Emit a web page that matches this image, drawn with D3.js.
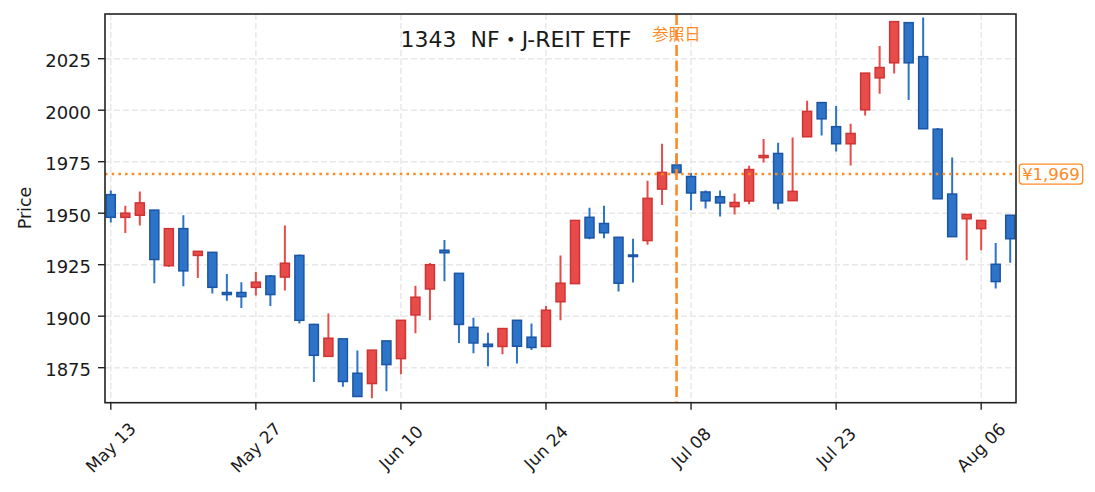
<!DOCTYPE html>
<html>
<head>
<meta charset="utf-8">
<script src="https://cdn.jsdelivr.net/npm/d3@7"></script>
<style>
  body { margin: 0; background: #fff; }
  svg { display: block; }
  text { font-family: "DejaVu Sans", "Noto Sans CJK JP", sans-serif; fill: #1a1a1a; }
</style>
</head>
<body>
<div id="chart"></div>
<script>

var dates = [
  '2024-05-13', '2024-05-14', '2024-05-15', '2024-05-16', '2024-05-17',
  '2024-05-20', '2024-05-21', '2024-05-22', '2024-05-23', '2024-05-24',
  '2024-05-27', '2024-05-28', '2024-05-29', '2024-05-30', '2024-05-31',
  '2024-06-03', '2024-06-04', '2024-06-05', '2024-06-06', '2024-06-07',
  '2024-06-10', '2024-06-11', '2024-06-12', '2024-06-13', '2024-06-14',
  '2024-06-17', '2024-06-18', '2024-06-19', '2024-06-20', '2024-06-21',
  '2024-06-24', '2024-06-25', '2024-06-26', '2024-06-27', '2024-06-28',
  '2024-07-01', '2024-07-02', '2024-07-03', '2024-07-04', '2024-07-05',
  '2024-07-08', '2024-07-09', '2024-07-10', '2024-07-11', '2024-07-12',
  '2024-07-16', '2024-07-17', '2024-07-18', '2024-07-19',
  '2024-07-22', '2024-07-23', '2024-07-24', '2024-07-25', '2024-07-26',
  '2024-07-29', '2024-07-30', '2024-07-31', '2024-08-01', '2024-08-02',
  '2024-08-05', '2024-08-06', '2024-08-07', '2024-08-08'
];

var openPrices = [
  1959, 1948, 1949, 1951.5, 1924.5, 1942.5, 1929.5, 1931, 1911.5, 1911.5,
  1914, 1919.5, 1919, 1929.5, 1896, 1880.5, 1889, 1872.3, 1867.3, 1888,
  1879.4, 1900.6, 1913.2, 1932, 1920.8, 1894.6, 1886.4, 1885.3, 1898, 1889.8,
  1885.3, 1907, 1915.8, 1948, 1945, 1938.3, 1929.7, 1936.7, 1961.7, 1973.4,
  1967.8, 1960.3, 1958, 1953.2, 1955.9, 1977, 1979, 1956.1, 1987.1, 2003.7,
  1992, 1983.7, 2000.2, 2015.7, 2023, 2042.5, 2026, 1990.8, 1959.3, 1947.3,
  1942.5, 1925.2, 1949
];

var highPrices = [
  1961, 1953.6, 1960.5, 1951.5, 1942.6, 1949, 1931.5, 1931, 1920.5, 1916.5,
  1921.5, 1920, 1944, 1930, 1896.3, 1901.3, 1889, 1883.3, 1883.5, 1888,
  1898, 1914.8, 1925.8, 1937, 1920.8, 1899.3, 1892, 1894, 1898, 1896.4,
  1905, 1929.4, 1946.5, 1952.7, 1953.6, 1938.3, 1937.6, 1965.8, 1983.7, 1979,
  1969.5, 1961, 1961, 1959.5, 1973, 1986, 1984.2, 1986.8, 2004.6, 2003.7,
  2002, 1993.4, 2018, 2031.2, 2043, 2042.5, 2045, 1991.3, 1977, 1949.4,
  1946.5, 1935.5, 1949
];

var lowPrices = [
  1945.5, 1940.4, 1944, 1916, 1924, 1914.5, 1918.5, 1911, 1907.5, 1904,
  1910, 1905, 1912.5, 1896.5, 1868, 1880.4, 1865.7, 1861, 1860.2, 1863.5,
  1871.8, 1891.7, 1898, 1917, 1887, 1882, 1875.7, 1881.5, 1877, 1883.6,
  1885.3, 1898, 1915.8, 1937.3, 1937.8, 1912, 1916.3, 1934.7, 1954, 1969.7,
  1951.4, 1952.3, 1948.4, 1949.4, 1954.3, 1974.6, 1951.8, 1956.1, 1987.1, 1987.7,
  1980, 1973.2, 1997.4, 2008, 2017.8, 2005, 1991, 1957, 1938.6, 1927.1,
  1932, 1913.5, 1926
];

var closePrices = [
  1948, 1950, 1955, 1927.5, 1942.5, 1922, 1931.5, 1914, 1910.5, 1909.5,
  1916.5, 1910.5, 1925.7, 1898, 1881, 1889.3, 1868.3, 1861, 1883.5, 1876.5,
  1898, 1909.2, 1925, 1930.8, 1896, 1887, 1885.3, 1894, 1885.4, 1884.8,
  1902.9, 1916, 1946.5, 1938, 1940.5, 1916, 1929, 1957.2, 1969.8, 1969.7,
  1959.8, 1956, 1955, 1955.2, 1971.2, 1978, 1955, 1960.6, 1999.4, 1995.8,
  1983.7, 1988.7, 2018, 2020.7, 2043, 2023, 1991, 1957, 1938.6, 1949.4,
  1946.5, 1916.8, 1937.6
];

var yTicks = [1875, 1900, 1925, 1950, 1975, 2000, 2025];
var xTickIndex = [0, 10, 20, 30, 40, 50, 60];

var title = '1343  NF・J-REIT ETF';
var refIndex = 39;
var refLabel = '参照日';
var refPrice = 1969;
var refPriceLabel = '¥1,969';

var width = 1095, height = 492;
var plotLeft = 105, plotRight = 1016, plotTop = 14, plotBottom = 402.7;

var upFill = '#e84c4a', upStroke = '#cf3434';
var downFill = '#2d74c8', downStroke = '#1b55a6';
var orange = '#ff8a24';

var svg = d3.select('#chart')
  .append('svg')
  .attr('width', width)
  .attr('height', height);

var x = d3.scaleLinear().domain([-0.4, dates.length - 0.6]).range([plotLeft, plotRight]);
var y = d3.scaleLinear().domain([1858, 2046.7]).range([plotBottom, plotTop]);

var parse = d3.timeParse('%Y-%m-%d');
var fmt = d3.timeFormat('%b %d');

svg.append('defs').append('clipPath').attr('id', 'plot')
  .append('rect')
  .attr('x', plotLeft).attr('y', plotTop)
  .attr('width', plotRight - plotLeft).attr('height', plotBottom - plotTop);

// grid
var grid = svg.append('g')
  .attr('stroke', '#e8e8e8')
  .attr('stroke-width', 1.5)
  .attr('stroke-dasharray', '6,3');

grid.selectAll('.gy')
  .data(yTicks)
  .enter()
  .append('line')
  .attr('x1', plotLeft).attr('x2', plotRight)
  .attr('y1', function (d) { return y(d); })
  .attr('y2', function (d) { return y(d); });

grid.selectAll('.gx')
  .data(xTickIndex)
  .enter()
  .append('line')
  .attr('y1', plotTop).attr('y2', plotBottom)
  .attr('x1', function (d) { return x(d); })
  .attr('x2', function (d) { return x(d); });

var candles = dates.map(function (d, i) {
  return {
    i: i,
    open: openPrices[i],
    high: highPrices[i],
    low: lowPrices[i],
    close: closePrices[i],
    up: closePrices[i] >= openPrices[i]
  };
});

var plot = svg.append('g').attr('clip-path', 'url(#plot)');

plot.selectAll('.wick')
  .data(candles)
  .enter()
  .append('line')
  .attr('x1', function (d) { return x(d.i); })
  .attr('x2', function (d) { return x(d.i); })
  .attr('y1', function (d) { return y(d.high); })
  .attr('y2', function (d) { return y(d.low); })
  .attr('stroke', function (d) { return d.up ? upFill : downFill; })
  .attr('stroke-width', 2);

var bodyW = x(0.31) - x(0);

plot.selectAll('.body')
  .data(candles)
  .enter()
  .append('rect')
  .attr('x', function (d) { return x(d.i) - bodyW; })
  .attr('width', bodyW * 2)
  .attr('y', function (d) { return y(Math.max(d.open, d.close)); })
  .attr('height', function (d) { return Math.max(1.5, Math.abs(y(d.open) - y(d.close))); })
  .attr('fill', function (d) { return d.up ? upFill : downFill; })
  .attr('stroke', function (d) { return d.up ? upStroke : downStroke; })
  .attr('stroke-width', 1.5);

// reference lines
svg.append('line')
  .attr('x1', plotLeft).attr('x2', plotRight)
  .attr('y1', y(refPrice)).attr('y2', y(refPrice))
  .attr('stroke', orange)
  .attr('stroke-width', 2.5)
  .attr('stroke-dasharray', '2.5,4.2');

svg.append('line')
  .attr('x1', x(refIndex)).attr('x2', x(refIndex))
  .attr('y1', plotTop).attr('y2', plotBottom)
  .attr('stroke', orange)
  .attr('stroke-width', 2.6)
  .attr('stroke-dasharray', '11,4.5');

svg.append('text')
  .attr('x', x(refIndex))
  .attr('y', 39.5)
  .attr('text-anchor', 'middle')
  .style('font-family', '"Noto Sans CJK JP", sans-serif')
  .style('font-size', '16px')
  .style('fill', orange)
  .text(refLabel);

svg.append('rect')
  .attr('x', 1019.3).attr('y', y(refPrice) - 10)
  .attr('width', 63.4).attr('height', 20)
  .attr('rx', 3)
  .attr('fill', '#fff')
  .attr('stroke', orange)
  .attr('stroke-width', 1.3);

svg.append('text')
  .attr('x', 1051)
  .attr('y', y(refPrice) + 6)
  .attr('text-anchor', 'middle')
  .style('font-size', '16.5px')
  .style('fill', orange)
  .text(refPriceLabel);

// frame
svg.append('rect')
  .attr('x', plotLeft).attr('y', plotTop)
  .attr('width', plotRight - plotLeft).attr('height', plotBottom - plotTop)
  .attr('fill', 'none')
  .attr('stroke', '#222')
  .attr('stroke-width', 1.6);

// y axis
var yAxis = svg.append('g');
yAxis.selectAll('line')
  .data(yTicks)
  .enter()
  .append('line')
  .attr('x1', plotLeft - 7).attr('x2', plotLeft)
  .attr('y1', function (d) { return y(d); })
  .attr('y2', function (d) { return y(d); })
  .attr('stroke', '#222')
  .attr('stroke-width', 1.4);

yAxis.selectAll('text')
  .data(yTicks)
  .enter()
  .append('text')
  .attr('x', 91)
  .attr('y', function (d) { return y(d) + 8.6; })
  .attr('text-anchor', 'end')
  .style('font-size', '18px')
  .text(function (d) { return d; });

// x axis
var xAxis = svg.append('g');
xAxis.selectAll('line')
  .data(xTickIndex)
  .enter()
  .append('line')
  .attr('x1', function (d) { return x(d); })
  .attr('x2', function (d) { return x(d); })
  .attr('y1', plotBottom).attr('y2', plotBottom + 7)
  .attr('stroke', '#222')
  .attr('stroke-width', 1.4);

xAxis.selectAll('text')
  .data(xTickIndex)
  .enter()
  .append('text')
  .attr('transform', function (d) { return 'translate(' + x(d) + ',447.5) rotate(-45)'; })
  .attr('text-anchor', 'middle')
  .attr('dy', '0.35em')
  .style('font-size', '17px')
  .text(function (d) { return fmt(parse(dates[d])); });

svg.append('text')
  .attr('transform', 'translate(31,208) rotate(-90)')
  .attr('text-anchor', 'middle')
  .style('font-size', '17.5px')
  .text('Price');

svg.append('text')
  .attr('x', 516)
  .attr('y', 46.7)
  .attr('text-anchor', 'middle')
  .style('font-size', '22px')
  .style('white-space', 'pre')
  .text(title);

</script>
</body>
</html>
